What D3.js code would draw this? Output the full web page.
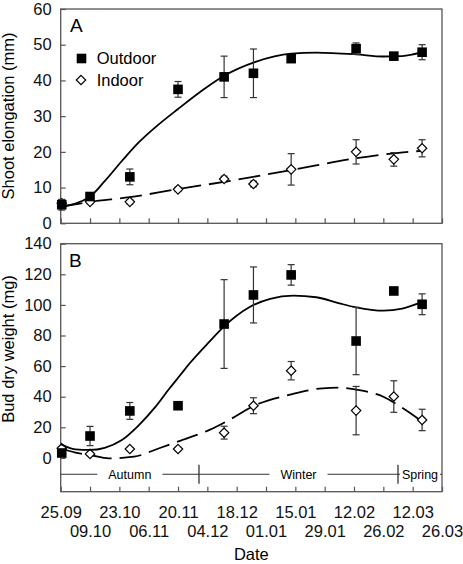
<!DOCTYPE html>
<html>
<head>
<meta charset="utf-8">
<script src="https://cdn.jsdelivr.net/npm/d3@7"></script>
<style>
  html, body { margin: 0; padding: 0; background: #fff; }
  svg { display: block; font-family: "Liberation Sans", Arial, Helvetica, sans-serif; }
</style>
</head>
<body>
<svg id="chart" width="463" height="564"></svg>
<script>
// ---------------- DATA ----------------
// x positions are days after 25.09
const tickDays = [0, 14, 28, 42, 56, 70, 84, 98, 112, 126, 140, 154, 168, 182];
const tickLabels = ["25.09", "09.10", "23.10", "06.11", "20.11", "04.12", "18.12",
                    "01.01", "15.01", "29.01", "12.02", "26.02", "12.03", "26.03"];
const sampleDays = [0.5, 14, 33, 56, 78, 92, 110, 141, 159, 172.5];

// Panel A: shoot elongation (mm)
const outdoorA    = [5.2, 7.5, 13.0, 37.5, 41.0, 42.0, 46.1, 48.9, 46.8, 47.9];
const outdoorAErr = [1.5, 1.0, 2.2, 2.2, 5.8, 6.8, 0.8, 1.6, 0.8, 2.1];
const indoorA     = [5.6, 6.0, 6.0, 9.5, 12.4, 11.0, 15.1, 20.0, 17.9, 21.0];
const indoorAErr  = [1.0, 0.5, 0.6, 0.6, 0.8, 0.8, 4.4, 3.4, 1.9, 2.4];

// Panel B: bud dry weight (mg)
const outdoorB    = [3.2, 14.3, 30.7, 34.1, 87.5, 106.5, 119.6, 76.4, 109.1, 100.4];
const outdoorBErr = [1.5, 6.3, 5.5, 1.5, 29.0, 18.3, 6.7, 22.0, 1.5, 6.8];
const indoorB     = [6.3, 2.6, 5.8, 5.8, 16.5, 34.1, 57.0, 30.9, 40.1, 24.8];
const indoorBErr  = [1.0, 1.0, 1.0, 1.0, 4.2, 5.2, 6.0, 15.8, 10.3, 7.0];

// Fitted curves: [day, value]
const fitOutdoorA = [[0,4.6],[14,7.5],[21,11.8],[29,17.3],[37,22.5],[45,26.8],[56,32],[69,37.8],
                     [78,41.3],[93,45.2],[110,47.5],[122,47.8],[141,47.3],[154,46.7],[163,46.8],[172.5,47.9]];
const fitIndoorA  = [[0,4.6],[14,6.0],[33,7.3],[56,9.6],[78,11.6],[110,14.9],[141,18.2],[159,19.6],[172.5,20.3]];
const fitOutdoorB = [[0,9],[7,5.6],[14,5.2],[21,6.6],[29,11.5],[37,21],[45,33],[52,45.5],[57,54],
                     [62,62.5],[71,76],[78,86],[90,98.5],[100,104],[111,106],[122,105],[133,101],
                     [141,98.4],[154,96.2],[163,97.6],[172.5,102]];
const fitIndoorB  = [[0,6.3],[7,3.5],[14,1.9],[23,-0.3],[35,0.8],[47,6.3],[58,11.7],[71,18.3],
                     [80,24.5],[92,33.9],[110,41.5],[125,45.5],[133,45.9],[141,44.6],[154,40],
                     [163,32.8],[172.5,23.8]];

const seasonNames = ["Autumn", "Winter", "Spring"];
const seasonStart = [0, 66, 161];
const seasonEnd   = [66, 161, 182];

const yTicksA = [0, 10, 20, 30, 40, 50, 60];
const yTicksB = [0, 20, 40, 60, 80, 100, 120, 140];

// ---------------- LAYOUT ----------------
const svg = d3.select("#chart");
const L = 60.7, R = 442;
const x = d3.scaleLinear().domain([0, 182]).range([L, R]);
const yA = d3.scaleLinear().domain([0, 60]).range([223.3, 9]);
const yB = d3.scaleLinear().domain([0, 140]).range([457.9, 243.7]);
const boxA = {top: 9, bottom: 223.3};
const boxB = {top: 243.7, bottom: 491.7};
const frameColor = "#555";
const fs = 16.5;

function panel(y, box, yTicks, showLabels) {
  const g = svg.append("g");
  g.append("g").attr("transform", `translate(${L},0)`)
    .call(d3.axisLeft(y).tickValues(yTicks).tickSize(-5).tickPadding(9).tickFormat(d3.format("d")))
    .call(a => a.select(".domain").remove())
    .call(a => a.selectAll("line").attr("stroke", frameColor).attr("stroke-width", 1.2))
    .call(a => a.selectAll("text").attr("font-size", fs).attr("fill", "#111")
      .attr("font-family", '"Liberation Sans", Arial, sans-serif'));
  const ax = g.append("g").attr("transform", `translate(0,${box.bottom})`)
    .call(d3.axisBottom(x).tickValues(tickDays).tickSize(-5)
      .tickFormat((d, i) => showLabels ? tickLabels[i] : ""))
    .call(a => a.select(".domain").remove())
    .call(a => a.selectAll("line").attr("stroke", frameColor).attr("stroke-width", 1.2));
  if (showLabels) {
    ax.selectAll("text")
      .attr("font-size", fs).attr("fill", "#111")
      .attr("font-family", '"Liberation Sans", Arial, sans-serif')
      .attr("y", (d, i) => i % 2 === 0 ? 20.3 : 39.8)
      .attr("dy", "0.35em");
  }
  g.append("rect").attr("x", L).attr("y", box.top)
    .attr("width", R - L).attr("height", box.bottom - box.top)
    .attr("fill", "none").attr("stroke", frameColor).attr("stroke-width", 1.3);
  return g;
}

const gA = panel(yA, boxA, yTicksA, false);
const gB = panel(yB, boxB, yTicksB, true);

function drawSeries(g, y, fit, dash, vals, errs, kind) {
  const line = d3.line().x(d => x(d[0])).y(d => y(d[1])).curve(d3.curveMonotoneX);
  g.append("path").attr("d", line(fit)).attr("fill", "none")
    .attr("stroke", "#000").attr("stroke-width", 1.8)
    .attr("stroke-dasharray", dash ? "22,8" : null);
  const pts = sampleDays.map((d, i) => ({d, v: vals[i], e: errs[i]}));
  const eb = g.append("g").attr("stroke", "#333").attr("stroke-width", 1.2);
  pts.forEach(p => {
    const cx = x(p.d), y1 = y(p.v + p.e), y2 = y(p.v - p.e);
    eb.append("line").attr("x1", cx).attr("x2", cx).attr("y1", y1).attr("y2", y2);
    eb.append("line").attr("x1", cx - 3.5).attr("x2", cx + 3.5).attr("y1", y1).attr("y2", y1);
    eb.append("line").attr("x1", cx - 3.5).attr("x2", cx + 3.5).attr("y1", y2).attr("y2", y2);
  });
  pts.forEach(p => marker(g, x(p.d), y(p.v), kind));
}

function marker(g, cx, cy, kind) {
  if (kind === "square") {
    g.append("rect").attr("x", cx - 4.8).attr("y", cy - 4.8).attr("width", 9.6).attr("height", 9.6)
      .attr("fill", "#000");
  } else {
    const r = 4.7;
    g.append("path").attr("d", `M${cx},${cy - r}L${cx + r},${cy}L${cx},${cy + r}L${cx - r},${cy}Z`)
      .attr("fill", "#fff").attr("stroke", "#000").attr("stroke-width", 1.2);
  }
}

drawSeries(gA, yA, fitIndoorA, true, indoorA, indoorAErr, "diamond");
drawSeries(gA, yA, fitOutdoorA, false, outdoorA, outdoorAErr, "square");
drawSeries(gB, yB, fitIndoorB, true, indoorB, indoorBErr, "diamond");
drawSeries(gB, yB, fitOutdoorB, false, outdoorB, outdoorBErr, "square");

// panel letters
svg.append("text").attr("x", 70).attr("y", 31.7).attr("font-size", 19).text("A");
svg.append("text").attr("x", 69).attr("y", 266.7).attr("font-size", 19).text("B");

// legend
marker(svg, 81.5, 58.5, "square");
svg.append("text").attr("x", 96.7).attr("y", 64).attr("font-size", fs).text("Outdoor");
marker(svg, 81, 80, "diamond");
svg.append("text").attr("x", 96.7).attr("y", 86).attr("font-size", fs).text("Indoor");

// axis titles
svg.append("text").attr("transform", "translate(13.5,116) rotate(-90)")
  .attr("text-anchor", "middle").attr("font-size", fs).text("Shoot elongation (mm)");
svg.append("text").attr("transform", "translate(13.5,349) rotate(-90)")
  .attr("text-anchor", "middle").attr("font-size", fs).text("Bud dry weight (mg)");
svg.append("text").attr("x", (L + R) / 2).attr("y", 554).attr("dy", "0.35em")
  .attr("text-anchor", "middle").attr("font-size", fs).text("Date");

// seasons row
const sy = 474.3;
const sg = svg.append("g");
sg.append("line").attr("x1", L).attr("x2", R).attr("y1", sy).attr("y2", sy)
  .attr("stroke", "#333").attr("stroke-width", 1.1);
seasonNames.forEach((name, i) => {
  const cx = x((seasonStart[i] + seasonEnd[i]) / 2);
  const t = sg.append("text").attr("x", cx).attr("y", sy).attr("dy", "0.35em")
    .attr("text-anchor", "middle").attr("font-size", 12.5).text(name);
  const w = t.node().getComputedTextLength();
  const seg = x(seasonEnd[i]) - x(seasonStart[i]);
  const pad = Math.max(1.5, Math.min(11, (seg - w) / 2 - 2));
  sg.insert("rect", "text").attr("x", cx - w / 2 - pad).attr("y", sy - 3)
    .attr("width", w + 2 * pad).attr("height", 6).attr("fill", "#fff");
});
seasonStart.slice(1).forEach(d => {
  sg.append("line").attr("x1", x(d)).attr("x2", x(d)).attr("y1", sy - 9.5).attr("y2", sy + 9.5)
    .attr("stroke", "#333").attr("stroke-width", 1.3);
});
</script>
</body>
</html>
